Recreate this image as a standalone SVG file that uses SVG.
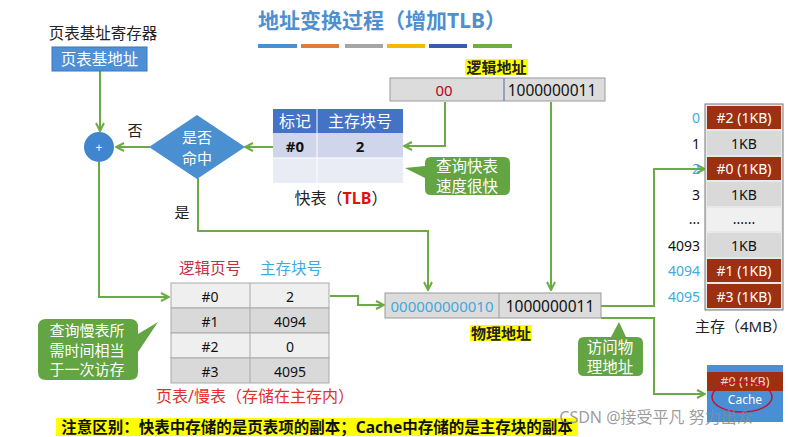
<svg xmlns="http://www.w3.org/2000/svg" width="788" height="437" viewBox="0 0 788 437">
<style>
text{font-family:"Noto Sans","Noto Sans CJK SC",sans-serif;}
.t{font-size:14px;fill:#111;text-anchor:middle;dominant-baseline:central;}
.w{font-size:13px;fill:#fff;text-anchor:middle;dominant-baseline:central;}
.lbl{font-size:15px;fill:#222;text-anchor:middle;dominant-baseline:central;}
.con{fill:none;stroke:#6aab45;stroke-width:2;}
.cell{stroke:#a9a9a9;stroke-width:1;}
.call{fill:#63a443;}
.red{fill:#9e3012;}
.gray{fill:#d9d9d9;}
</style>
<defs>
<marker id="ah" viewBox="0 0 10 10" refX="9" refY="5" markerWidth="5" markerHeight="5" orient="auto-start-reverse">
<path d="M1,1 L9,5 L1,9" fill="none" stroke="#6aab45" stroke-width="2"/>
</marker>
</defs>
<rect width="788" height="437" fill="#fff"/>

<g id="title">
<text x="382" y="20" style="font-size:21px;fill:#4f8fd0;font-weight:bold;text-anchor:middle;dominant-baseline:central">地址变换过程（增加TLB）</text>
<rect x="258" y="44" width="39" height="4" fill="#4a90d0"/>
<rect x="301" y="44" width="38" height="4" fill="#e07b39"/>
<rect x="345" y="44" width="38" height="4" fill="#a5a5a5"/>
<rect x="387" y="44" width="38" height="4" fill="#f5b800"/>
<rect x="429" y="44" width="38" height="4" fill="#3a5cae"/>
<rect x="473" y="44" width="39" height="4" fill="#70ad47"/>
</g>

<g id="connectors">
<path class="con" d="M100,71 V131" marker-end="url(#ah)"/>
<path class="con" d="M150,147 H116" marker-end="url(#ah)"/>
<path class="con" d="M273,147 H245" marker-end="url(#ah)"/>
<path class="con" d="M445,102 V146 H404" marker-end="url(#ah)"/>
<path class="con" d="M551,102 V290" marker-end="url(#ah)"/>
<path class="con" d="M198,178 V231 H428 V290" marker-end="url(#ah)"/>
<path class="con" d="M99,162 V297 H169" marker-end="url(#ah)"/>
<path class="con" d="M330,296 H358 V305 H384" marker-end="url(#ah)"/>
<path class="con" d="M601,306 H654 V169 H705" marker-end="url(#ah)"/>
<path class="con" d="M601,318 H654 V394 H705" marker-end="url(#ah)"/>
</g>

<g id="pt-register">
<text x="103" y="33" class="lbl" style="font-size:15.5px">页表基址寄存器</text>
<rect x="52" y="47" width="95" height="24" fill="#4e8fd6" stroke="#3a78b8" stroke-width="1"/>
<text x="99.5" y="59" class="w" style="font-size:15.5px">页表基地址</text>
</g>

<g id="adder">
<circle cx="99" cy="147" r="15" fill="#3f86cf"/>
<text x="99" y="147" class="w" style="font-size:12px">+</text>
<text x="135" y="130" class="lbl">否</text>
</g>

<g id="hit">
<path d="M197,115 L245,147 L197,179 L149,147 Z" fill="#4a8fd0"/>
<text class="w" style="font-size:15px"><tspan x="197" y="137">是否</tspan><tspan x="197" y="157.5">命中</tspan></text>
<text x="182" y="212" class="lbl">是</text>
</g>

<g id="tlb">
<rect x="273" y="109" width="130" height="24" fill="#4472c4"/>
<line x1="317" y1="109" x2="317" y2="133" stroke="#fff" stroke-width="1"/>
<text x="295" y="121" class="w" style="font-size:16px">标记</text>
<text x="360" y="121" class="w" style="font-size:16px">主存块号</text>
<rect x="273" y="133" width="130" height="25" fill="#cfd5ea"/>
<rect x="273" y="158" width="130" height="25" fill="#e9ebf5"/>
<line x1="317" y1="133" x2="317" y2="183" stroke="#fff" stroke-width="1"/>
<line x1="273" y1="158" x2="403" y2="158" stroke="#fff" stroke-width="1"/>
<text x="295" y="146" class="t" style="font-weight:bold;font-size:15px">#0</text>
<text x="360" y="146" class="t" style="font-weight:bold;font-size:15px">2</text>
<text x="341" y="198" class="lbl" style="font-size:16px">快表（<tspan fill="#e01010" style="font-weight:bold">TLB</tspan>）</text>
</g>

<g id="callout-tlb">
<path class="call" d="M431,157 H504 Q510,157 510,163 V189 Q510,195 504,195 H431 Q425,195 425,189 V178 L405,168 L425,166 V163 Q425,157 431,157 Z"/>
<text class="w" style="font-size:15.5px"><tspan x="467" y="166">查询快表</tspan><tspan x="467" y="186">速度很快</tspan></text>
</g>

<g id="logical-addr">
<rect x="465" y="59" width="63" height="16" fill="#ffff00"/>
<text x="496.5" y="67" class="lbl" style="font-weight:bold">逻辑地址</text>
<rect x="390" y="78" width="215" height="23" fill="#dcdcdc" stroke="#9a9a9a" stroke-width="1"/>
<line x1="504" y1="78" x2="504" y2="101" stroke="#7f8fa8" stroke-width="1.5"/>
<text x="444" y="89.5" class="t" style="fill:#c00020;font-size:15px">00</text>
<text x="552" y="89.5" class="t" style="font-size:15.5px">1000000011</text>
</g>

<g id="page-table">
<text x="210" y="268" class="lbl" style="fill:#c0304a;font-size:15.5px">逻辑页号</text>
<text x="291" y="268" class="lbl" style="fill:#3fa9e0;font-size:15.5px">主存块号</text>
<rect x="171" y="283" width="158" height="25" fill="#efefef" class="cell"/>
<rect x="171" y="308" width="158" height="25" fill="#d9d9d9" class="cell"/>
<rect x="171" y="333" width="158" height="25" fill="#efefef" class="cell"/>
<rect x="171" y="358" width="158" height="25" fill="#d9d9d9" class="cell"/>
<line x1="250" y1="283" x2="250" y2="383" stroke="#a9a9a9" stroke-width="1"/>
<text x="210" y="296" class="t">#0</text><text x="290" y="296" class="t">2</text>
<text x="210" y="321" class="t">#1</text><text x="290" y="321" class="t">4094</text>
<text x="210" y="346" class="t">#2</text><text x="290" y="346" class="t">0</text>
<text x="210" y="371" class="t">#3</text><text x="290" y="371" class="t">4095</text>
<text x="255" y="396" class="lbl" style="fill:#e03030;font-size:16px">页表/慢表（存储在主存内）</text>
</g>

<g id="callout-pt">
<path class="call" d="M46,319 H130 Q138,319 138,327 V334 L158,322 L138,352 V372 Q138,380 130,380 H46 Q38,380 38,372 V327 Q38,319 46,319 Z"/>
<text class="w" style="font-size:15px"><tspan x="87" y="330">查询慢表所</tspan><tspan x="87" y="349.5">需时间相当</tspan><tspan x="87" y="369">于一次访存</tspan></text>
</g>

<g id="physical-addr">
<rect x="385" y="293" width="216" height="25" fill="#dcdcdc" stroke="#9a9a9a" stroke-width="1"/>
<line x1="499" y1="293" x2="499" y2="318" stroke="#9a9a9a" stroke-width="1"/>
<text x="442" y="305.5" class="t" style="fill:#3fa9e0;font-size:15px">000000000010</text>
<text x="550" y="305.5" class="t" style="font-size:15.5px">1000000011</text>
<rect x="470" y="325" width="62" height="16" fill="#ffff00"/>
<text x="501" y="333" class="lbl" style="font-weight:bold">物理地址</text>
</g>

<g id="callout-pa">
<path class="call" d="M584,337 H611 L619,322 L626,337 H637 Q643,337 643,343 V370 Q643,376 637,376 H584 Q578,376 578,370 V343 Q578,337 584,337 Z"/>
<text class="w" style="font-size:15.5px"><tspan x="610" y="346.5">访问物</tspan><tspan x="610" y="366.5">理地址</tspan></text>
</g>

<g id="main-memory">
<rect x="705" y="104" width="78" height="206" fill="#e8e8e8" stroke="#777" stroke-width="1"/>
<rect x="707" y="106" width="74" height="23" class="red"/>
<rect x="707" y="131" width="74" height="24" class="gray"/>
<rect x="707" y="157" width="74" height="23" class="red"/>
<rect x="707" y="182" width="74" height="24" class="gray"/>
<rect x="707" y="208" width="74" height="23" fill="#f0f0f0"/>
<rect x="707" y="233" width="74" height="24" class="gray"/>
<rect x="707" y="259" width="74" height="23" class="red"/>
<rect x="707" y="284" width="74" height="24" class="red"/>
<text x="744" y="117.5" class="w" style="font-size:14px">#2 (1KB)</text>
<text x="744" y="143" class="t">1KB</text>
<text x="744" y="168.5" class="w" style="font-size:14px">#0 (1KB)</text>
<text x="744" y="194" class="t">1KB</text>
<text x="744" y="218" class="t">......</text>
<text x="744" y="245" class="t">1KB</text>
<text x="744" y="270.5" class="w" style="font-size:14px">#1 (1KB)</text>
<text x="744" y="296" class="w" style="font-size:14px">#3 (1KB)</text>
<g style="font-size:14px;text-anchor:end;dominant-baseline:central">
<text x="700" y="117.5" fill="#3fa9e0">0</text>
<text x="700" y="143" fill="#111">1</text>
<text x="700" y="168.5" fill="#3fa9e0">2</text>
<text x="700" y="194" fill="#111">3</text>
<text x="700" y="218" fill="#111">...</text>
<text x="700" y="245" fill="#111">4093</text>
<text x="700" y="270.5" fill="#3fa9e0">4094</text>
<text x="700" y="296" fill="#3fa9e0">4095</text>
</g>
<text x="741" y="326" class="lbl" style="font-size:15px">主存（4MB）</text>
</g>

<g id="cache">
<rect x="707" y="365" width="76" height="57" fill="#4a8fd6"/>
<rect x="707" y="372" width="76" height="19" class="red"/>
<text x="745" y="381" class="w" style="fill:#f0d8c8;font-size:12.5px">#0 (1KB)</text>
<text x="745" y="399" class="w" style="font-size:12px">Cache</text>
<ellipse cx="742" cy="397" rx="30" ry="15" fill="none" stroke="#c8102e" stroke-width="1.5"/>
</g>

<g id="note">
<rect x="56" y="418" width="522" height="18" fill="#ffff00"/>
<text x="317" y="427" class="lbl" style="font-size:15.5px;fill:#111;font-weight:bold">注意区别：快表中存储的是页表项的副本；Cache中存储的是主存块的副本</text>
</g>

<g id="watermark">
<text x="656" y="417" style="font-size:16px;fill:#8a8a8a;fill-opacity:0.85;text-anchor:middle;dominant-baseline:central">CSDN @接受平凡 努力出众</text>
</g>
</svg>
